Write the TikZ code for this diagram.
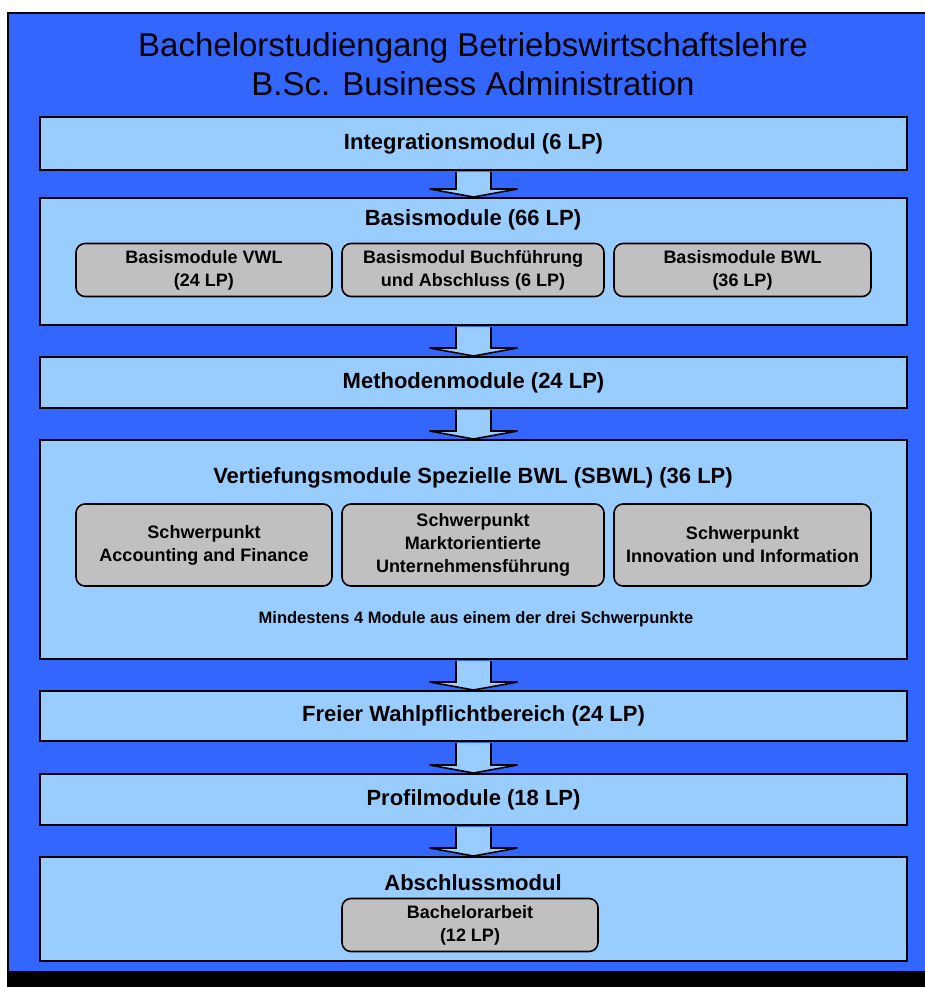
\documentclass[tikz,border=0pt]{standalone}
\usepackage{fontspec}
\setmainfont{Liberation Sans}
\usepackage{tikz}

\definecolor{frameblue}{RGB}{51,102,255}
\definecolor{boxblue}{RGB}{153,204,255}
\definecolor{modgray}{RGB}{192,192,192}

\tikzset{
    stage/.style={draw=black, line width=2pt, fill=boxblue, minimum width=867pt, inner sep=0pt},
    heading/.style={font=\fontsize{22}{26}\selectfont\bfseries},
    module/.style={draw=black, line width=1.6pt, fill=modgray, rounded corners=9pt, inner sep=0pt,
        align=center, font=\fontsize{18}{23}\selectfont\bfseries},
    flow/.style={draw=black, line width=1.6pt, fill=boxblue}
}

% block arrow from one stage to the next
\newcommand{\flowarrow}[2]{%
    \path[flow] ([xshift=-17.5pt,yshift=-1pt]#1.south) -- ([xshift=-17.5pt,yshift=8pt]#2.north)
        -- ([xshift=-44pt,yshift=8pt]#2.north) -- (#2.north) -- ([xshift=44pt,yshift=8pt]#2.north)
        -- ([xshift=17.5pt,yshift=8pt]#2.north) -- ([xshift=17.5pt,yshift=-1pt]#1.south);}

\begin{document}
\begin{tikzpicture}[x=1pt,y=-1pt]
    \useasboundingbox (0,0) rectangle (925,987);
    \fill[black] (7,12) rectangle (927,987);
    \fill[frameblue] (9,14) rectangle (927,971);

    \node[font=\fontsize{33}{39}\selectfont, align=center] (title) at (473,64)
        {Bachelorstudiengang Betriebswirtschaftslehre\\B.Sc. Business Administration};

    \node[stage, heading, minimum height=53pt] (integ) at (473.5,143.5) {Integrationsmodul (6 LP)};

    \node[stage, minimum height=127pt] (basis) at (473.5,261.5) {};
        \node[heading] (basistitle) at (473,220) {Basismodule (66 LP)};
        \node[module, minimum width=256pt, minimum height=53pt] (vwl) at (204,270) {Basismodule VWL\\(24 LP)};
        \node[module, minimum width=262pt, minimum height=53pt] (buch) at (473,270) {Basismodul Buchführung\\und Abschluss (6 LP)};
        \node[module, minimum width=257pt, minimum height=53pt] (bwl) at (742.5,270) {Basismodule BWL\\(36 LP)};

    \node[stage, heading, minimum height=51pt] (methoden) at (473.5,382.5) {Methodenmodule (24 LP)};

    \node[stage, minimum height=219pt] (sbwl) at (473.5,549.5) {};
        \node[heading] (sbwltitle) at (473,478) {Vertiefungsmodule Spezielle BWL (SBWL) (36 LP)};
        \node[module, minimum width=256pt, minimum height=82pt] (finance) at (204,545) {Schwerpunkt\\Accounting and Finance};
        \node[module, minimum width=262pt, minimum height=82pt] (markt) at (473,545) {Schwerpunkt\\Marktorientierte\\Unternehmensführung};
        \node[module, minimum width=257pt, minimum height=82pt] (innov) at (742.5,545) {Schwerpunkt\\Innovation und Information};
        \node[font=\fontsize{16.5}{20}\selectfont\bfseries] (sbwlnote) at (476,619) {Mindestens 4 Module aus einem der drei Schwerpunkte};

    \node[stage, heading, minimum height=50pt] (wahl) at (473.5,716) {Freier Wahlpflichtbereich (24 LP)};

    \node[stage, heading, minimum height=51pt] (profil) at (473.5,799.5) {Profilmodule (18 LP)};

    \node[stage, minimum height=104pt] (abschluss) at (473.5,909) {};
        \node[heading] (abschlusstitle) at (473,883) {Abschlussmodul};
        \node[module, minimum width=256pt, minimum height=53pt] (thesis) at (470,925) {Bachelorarbeit\\(12 LP)};

    \foreach \a/\b in {integ/basis, basis/methoden, methoden/sbwl, sbwl/wahl, wahl/profil, profil/abschluss}
        \flowarrow{\a}{\b};
\end{tikzpicture}
\end{document}
